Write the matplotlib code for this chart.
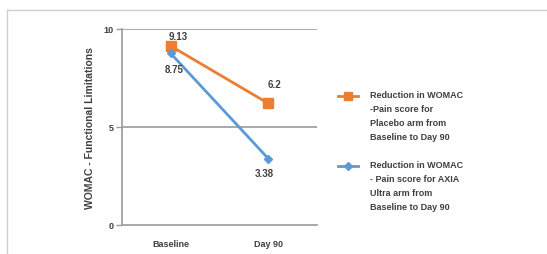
import matplotlib
matplotlib.use('Agg')
import matplotlib.pyplot as plt
from matplotlib.lines import Line2D

categories = ['Baseline', 'Day 90']
placebo = [9.13, 6.2]
axia = [8.75, 3.38]
placebo_labels = ['9.13', '6.2']
axia_labels = ['8.75', '3.38']
legend_texts = ['Reduction in WOMAC\n-Pain score for\nPlacebo arm from\nBaseline to Day 90',
                'Reduction in WOMAC\n- Pain score for AXIA\nUltra arm from\nBaseline to Day 90']
y_ticks = [0, 5, 10]

ORANGE = '#ED7D31'
BLUE = '#5B9BD5'
TXT = '#404040'
GRID = '#9a9a9a'

plt.rcParams['font.family'] = ['Liberation Sans', 'DejaVu Sans']
plt.rcParams['font.weight'] = 'bold'
plt.rcParams['axes.labelweight'] = 'bold'

fig = plt.figure(figsize=(5.47, 2.55), dpi=100)
ax = fig.add_axes([122/547, 1 - 225.7/255, 195/547, (225.7 - 30)/255])

x = range(len(categories))
ax.plot(x, placebo, color=ORANGE, lw=2, marker='s', ms=7, zorder=3)
ax.plot(x, axia, color=BLUE, lw=2, marker='D', ms=4.5, zorder=3)

# data labels
pl_off = [(7, 10), (6, 19)]
ax_off = [(3, -16), (-4, -14)]
for i in x:
    ax.annotate(placebo_labels[i], (i, placebo[i]), xytext=pl_off[i], textcoords='offset pixels',
                ha='center', va='center', fontsize=7, color=TXT)
    ax.annotate(axia_labels[i], (i, axia[i]), xytext=ax_off[i], textcoords='offset pixels',
                ha='center', va='center', fontsize=7, color=TXT)

ax.set_xlim(-0.5, 1.5)
ax.set_ylim(0, 10)
ax.set_yticks(y_ticks)
ax.set_xticks(list(x))
ax.set_xticklabels(categories, fontsize=6.5, color=TXT)
ax.tick_params(axis='x', length=0, pad=10)
ax.tick_params(axis='y', length=4, width=1, color=GRID, labelsize=6.5, labelcolor=TXT, pad=2)
for t in (5, 10):
    ax.axhline(t, color=GRID, lw=1.2, zorder=1)
for s in ('top', 'right'):
    ax.spines[s].set_visible(False)
ax.spines['left'].set_color(GRID)
ax.spines['bottom'].set_color(GRID)
ax.spines['left'].set_linewidth(1.2)
ax.spines['bottom'].set_linewidth(1.2)
ax.set_ylabel('WOMAC - Functional Limitations', fontsize=7.5, color=TXT, labelpad=6)

# legend drawn by hand so the key sits on the first line of text
W, H = 547, 255
for (col, mk, ms), txt, ytop in zip([(ORANGE, 's', 6), (BLUE, 'D', 4)], legend_texts, [97, 167]):
    fig.add_artist(Line2D([338/W, 358/W], [1 - ytop/H] * 2, color=col, lw=2,
                          transform=fig.transFigure))
    fig.add_artist(Line2D([348/W], [1 - ytop/H], color=col, marker=mk, ms=ms,
                          transform=fig.transFigure))
    fig.text(370/W, 1 - (ytop - 6)/H, txt, fontsize=6.5, color=TXT, va='top', ha='left',
             linespacing=1.7)

# light frame along top and left
fig.add_artist(Line2D([7/W, 1], [1 - 11/H] * 2, color='#cfcfcf', lw=1, transform=fig.transFigure))
fig.add_artist(Line2D([7/W] * 2, [0, 1 - 11/H], color='#cfcfcf', lw=1, transform=fig.transFigure))

fig.savefig('out.png', dpi=100)
